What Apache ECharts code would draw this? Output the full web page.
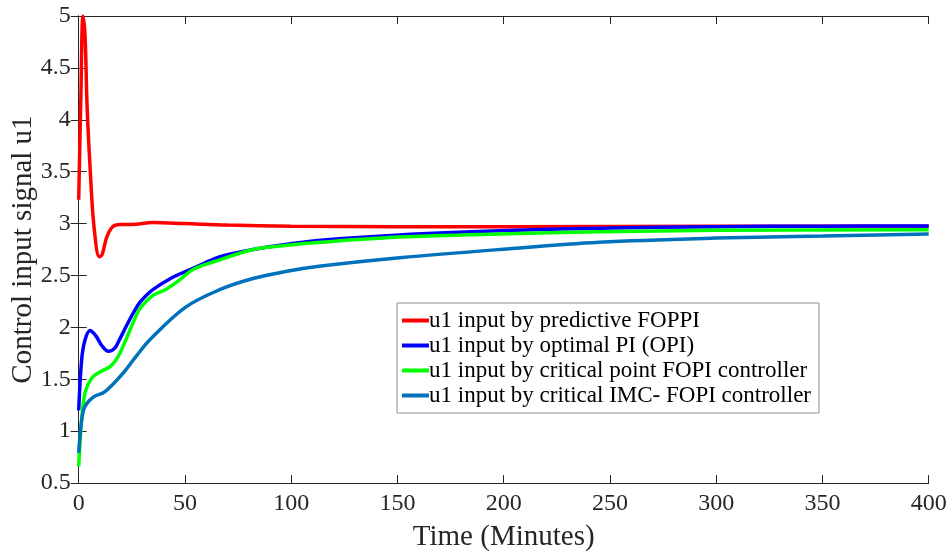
<!DOCTYPE html>
<html>
<head>
<meta charset="utf-8">
<script src="https://cdn.jsdelivr.net/npm/echarts@6/dist/echarts.min.js"></script>
<style>
html,body{margin:0;padding:0;background:#fff;}
#chart{width:951px;height:556px;}
</style>
</head>
<body>
<div id="chart"></div>
<script>
// Control input u1 responses (time in minutes, value of u1)
const seriesNames = [
  'u1 input by predictive FOPPI',
  'u1 input by optimal PI (OPI)',
  'u1 input by critical point FOPI controller',
  'u1 input by critical IMC- FOPI controller'
];
const seriesColors = ['#ff0000', '#0000ff', '#00ff00', '#0072bd'];

const timeFOPPI = [0, 1, 2, 3, 4, 5.6, 7.2, 9.7, 11, 13.2, 16, 19.4, 25, 35, 50, 70, 100, 150, 200, 300, 400];
const uFOPPI    = [3.23, 4.2, 5.0, 4.8, 4.1, 3.45, 2.97, 2.68, 2.70, 2.87, 2.97, 2.99, 2.99, 3.01, 3.0, 2.985, 2.975, 2.97, 2.97, 2.975, 2.975];

const timeOPI = [0, 1.4, 3, 5.3, 8, 11, 14, 17, 19.4, 22.6, 25.7, 28.8, 33.5, 38.3, 45, 54, 66.5, 82, 98, 114, 151, 198, 245, 300, 350, 400];
const uOPI    = [1.20, 1.69, 1.88, 1.97, 1.92, 1.82, 1.77, 1.80, 1.89, 2.02, 2.14, 2.24, 2.34, 2.41, 2.49, 2.57, 2.68, 2.75, 2.80, 2.84, 2.89, 2.93, 2.955, 2.97, 2.975, 2.977];

const timeCP = [0, 1.4, 3, 6.1, 10, 14.7, 17, 19.4, 22.6, 25.7, 28.8, 32.8, 35, 41.4, 47.7, 54, 66.5, 82, 98, 114, 151, 198, 245, 300, 400];
const uCP    = [0.66, 1.11, 1.37, 1.51, 1.57, 1.62, 1.67, 1.75, 1.90, 2.05, 2.18, 2.27, 2.31, 2.37, 2.46, 2.56, 2.65, 2.75, 2.79, 2.82, 2.87, 2.90, 2.92, 2.935, 2.94];

const timeIMC = [0, 1.4, 3, 7, 11.6, 16, 21, 27, 33.5, 50, 66, 82, 98, 114, 151, 198, 245, 300, 350, 400];
const uIMC    = [0.79, 1.11, 1.24, 1.33, 1.37, 1.45, 1.56, 1.72, 1.88, 2.19, 2.36, 2.47, 2.54, 2.59, 2.67, 2.75, 2.82, 2.86, 2.88, 2.90];

const xTicks = { min: 0, max: 400, interval: 50 };
const yTicks = { min: 0.5, max: 5, interval: 0.5 };

function pairs(t, u) { return t.map((x, i) => [x, u[i]]); }
const curves = [pairs(timeFOPPI, uFOPPI), pairs(timeOPI, uOPI), pairs(timeCP, uCP), pairs(timeIMC, uIMC)];

const axisColor = '#262626';
const font = '"Liberation Serif", "Times New Roman", serif';

const chart = echarts.init(document.getElementById('chart'));
chart.setOption({
  backgroundColor: '#ffffff',
  animation: false,
  textStyle: { fontFamily: font },
  grid: { left: 78.7, right: 22.3, top: 16, bottom: 73, containLabel: false, outerBoundsMode: 'none' },
  legend: {
    orient: 'vertical',
    left: 397, top: 303,
    width: 426,
    padding: [6, 8, 6, 5],
    itemGap: 2,
    itemWidth: 27, itemHeight: 4,
    icon: 'rect',
    borderColor: '#8c8c8c', borderWidth: 1,
    backgroundColor: '#ffffff',
    textStyle: { fontFamily: font, fontSize: 23, color: '#000', padding: [0, 0, 0, -5] },
    data: seriesNames
  },
  xAxis: [{
    type: 'value', min: xTicks.min, max: xTicks.max, interval: xTicks.interval,
    name: 'Time (Minutes)', nameLocation: 'middle', nameGap: 40, nameMoveOverlap: false,
    nameTextStyle: { fontFamily: font, fontSize: 29, color: axisColor },
    axisLine: { show: true, lineStyle: { color: axisColor, width: 1 } },
    axisTick: { show: true, inside: true, length: 8, lineStyle: { color: axisColor } },
    axisLabel: { fontFamily: font, fontSize: 24, color: axisColor, margin: 9 },
    splitLine: { show: false }
  }, {
    type: 'value', position: 'top', min: xTicks.min, max: xTicks.max, interval: xTicks.interval,
    axisLine: { show: true, lineStyle: { color: axisColor, width: 1 } },
    axisTick: { show: true, inside: true, length: 8, lineStyle: { color: axisColor } },
    axisLabel: { show: false }, splitLine: { show: false }
  }],
  yAxis: [{
    type: 'value', min: yTicks.min, max: yTicks.max, interval: yTicks.interval,
    name: 'Control input signal u1', nameLocation: 'middle', nameGap: 41, nameRotate: 90,
    nameMoveOverlap: false,
    nameTextStyle: { fontFamily: font, fontSize: 29, color: axisColor },
    axisLine: { show: true, lineStyle: { color: axisColor, width: 1 } },
    axisTick: { show: true, inside: true, length: 8, lineStyle: { color: axisColor } },
    axisLabel: { fontFamily: font, fontSize: 24, color: axisColor, margin: 8 },
    splitLine: { show: false }
  }, {
    type: 'value', position: 'right', min: yTicks.min, max: yTicks.max, interval: yTicks.interval,
    axisLine: { show: true, lineStyle: { color: axisColor, width: 1 } },
    axisTick: { show: true, inside: true, length: 8, lineStyle: { color: axisColor } },
    axisLabel: { show: false }, splitLine: { show: false }
  }],
  series: curves.map((d, i) => ({
    name: seriesNames[i],
    type: 'line',
    data: d,
    smooth: 0.35,
    showSymbol: false,
    symbol: 'none',
    clip: true,
    lineStyle: { color: seriesColors[i], width: 3.5 },
    itemStyle: { color: seriesColors[i] }
  }))
});
</script>
</body>
</html>
